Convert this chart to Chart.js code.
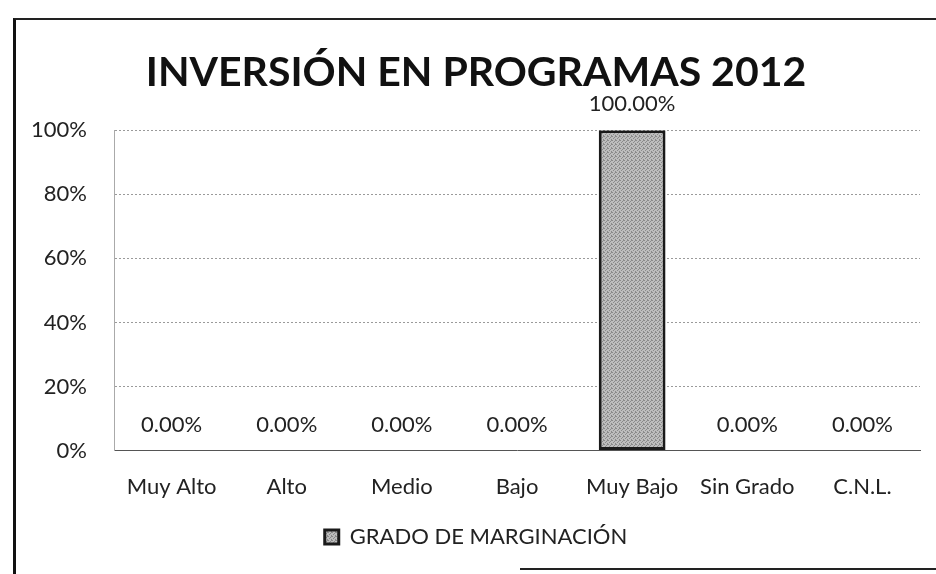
<!DOCTYPE html>
<html>
<head>
<meta charset="utf-8">
<script src="https://cdn.jsdelivr.net/npm/chart.js@4.4.0/dist/chart.umd.min.js"></script>
<style>
  html, body { margin: 0; padding: 0; background: #fff; }
  #wrap { position: relative; width: 936px; height: 574px; }
  #frame { position: absolute; left: 13px; top: 18px; width: 930px; height: 560px;
           border-left: 3px solid #111; border-top: 2px solid #222; }
  #bottomline { position: absolute; left: 520px; top: 568px; width: 416px; height: 0;
           border-top: 2px solid #222; }
</style>
</head>
<body>
<div id="wrap">
  <canvas id="myChart" width="936" height="574"></canvas>
  <div id="frame"></div>
  <div id="bottomline"></div>
</div>
<script>
const categorias = ['Muy Alto', 'Alto', 'Medio', 'Bajo', 'Muy Bajo', 'Sin Grado', 'C.N.L.'];
const valores = [0, 0, 0, 0, 100, 0, 0];
const ticksY = [0, 20, 40, 60, 80, 100];

const fuente = 'Lato, "Open Sans", sans-serif';

// trama gris punteada para la barra (como la impresión escaneada)
function trama() {
  const c = document.createElement('canvas');
  c.width = 4;
  c.height = 4;
  const g = c.getContext('2d');
  g.fillStyle = '#bdbdbd';
  g.fillRect(0, 0, 4, 4);
  g.fillStyle = '#8a8a8a';
  g.fillRect(0, 0, 1, 1);
  g.fillRect(2, 1, 1, 1);
  g.fillRect(1, 2, 1, 1);
  g.fillRect(3, 3, 1, 1);
  g.fillRect(3, 0, 1, 1);
  return g.createPattern(c, 'repeat');
}
const relleno = trama();

// etiquetas de datos encima de cada barra
const etiquetas = {
  id: 'etiquetas',
  afterDatasetsDraw(chart) {
    const ctx = chart.ctx;
    const meta = chart.getDatasetMeta(0);
    ctx.save();
    ctx.font = '22px ' + fuente;
    ctx.fillStyle = '#222';
    ctx.textAlign = 'center';
    ctx.textBaseline = 'middle';
    meta.data.forEach(function (bar, i) {
      ctx.fillText(valores[i].toFixed(2) + '%', bar.x, bar.y - 26);
    });
    ctx.restore();
  },
};

const ctx = document.getElementById('myChart');
const myChart = new Chart(ctx, {
  type: 'bar',
  data: {
    labels: categorias,
    datasets: [
      {
        label: 'GRADO DE MARGINACIÓN',
        data: valores,
        backgroundColor: relleno,
        borderColor: '#1a1a1a',
        borderWidth: 3,
        borderSkipped: false,
        barPercentage: 0.58,
        categoryPercentage: 1,
      },
    ],
  },
  options: {
    responsive: false,
    animation: false,
    layout: { padding: { left: 32, right: 16, top: 0, bottom: 16 } },
    plugins: {
      title: {
        display: true,
        text: 'INVERSIÓN EN PROGRAMAS 2012',
        color: '#111',
        font: { family: fuente, size: 41, weight: 'bold' },
        padding: { top: 48, bottom: 33 },
      },
      legend: {
        position: 'bottom',
        labels: {
          color: '#222',
          font: { family: fuente, size: 22 },
          boxWidth: 14,
          boxHeight: 14,
          padding: 3,
        },
      },
      tooltip: { enabled: false },
    },
    scales: {
      x: {
        grid: { display: false, drawTicks: false },
        border: { display: true, color: '#555', width: 1 },
        ticks: { color: '#222', font: { family: fuente, size: 22 }, padding: 23 },
      },
      y: {
        min: 0,
        max: 100,
        afterBuildTicks: function (axis) {
          axis.ticks = ticksY.map(function (v) { return { value: v }; });
        },
        afterFit: function (axis) {
          axis.width = 82;
        },
        grid: { color: '#9a9a9a', lineWidth: 1, drawTicks: false },
        border: { display: true, color: '#aaa', dash: [2, 2] },
        ticks: {
          color: '#222',
          font: { family: fuente, size: 22 },
          padding: 27,
          callback: function (v) { return v + '%'; },
        },
      },
    },
  },
  plugins: [etiquetas],
});
</script>
</body>
</html>
